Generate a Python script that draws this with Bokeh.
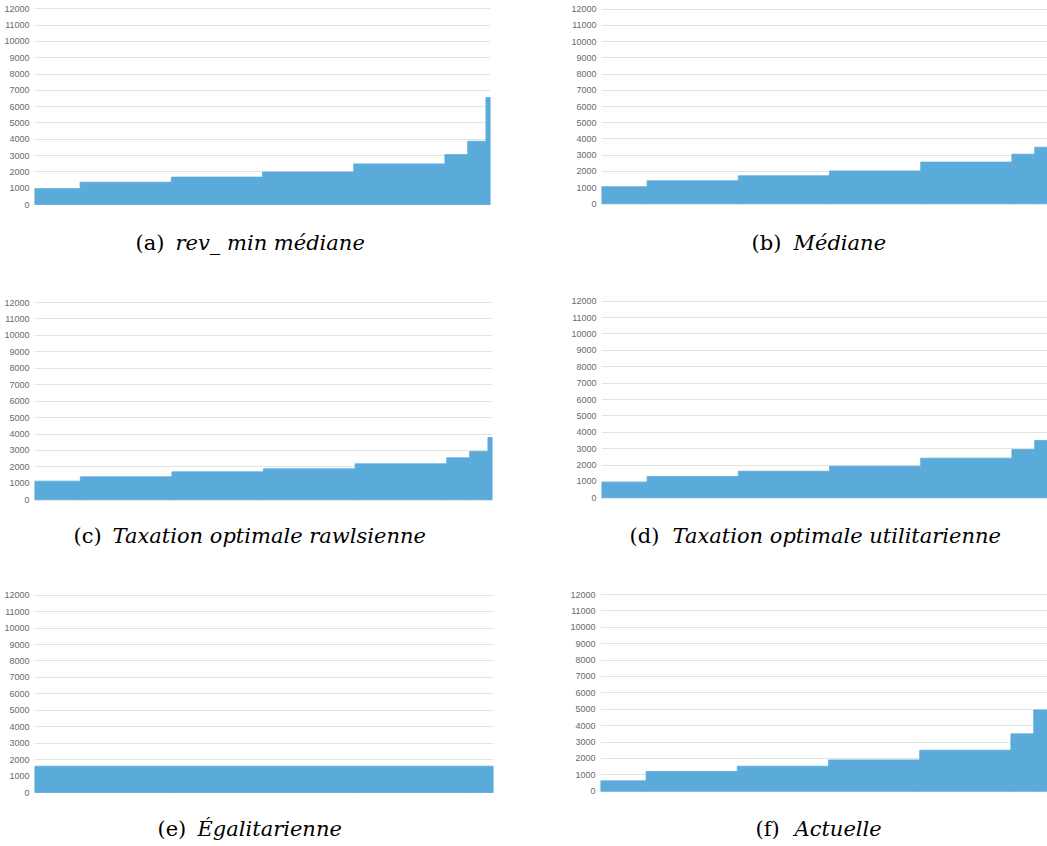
from bokeh.plotting import figure
from bokeh.layouts import column, row
from bokeh.models import Range1d, FixedTicker, NumeralTickFormatter
from bokeh.core.properties import value
from bokeh.embed import file_html
from bokeh.resources import INLINE

# Population brackets (percentile edges, in %)
bracket_edges = [0, 10, 30, 50, 70, 90, 95, 99, 100]

# Y-axis ticks (monthly income)
y_ticks = [0, 1000, 2000, 3000, 4000, 5000, 6000, 7000, 8000, 9000, 10000, 11000, 12000]

# Income level of each bracket, per scenario
rev_min_mediane = [970, 1370, 1680, 1990, 2490, 3060, 3880, 6560]
mediane = [1050, 1420, 1730, 2030, 2570, 3060, 3490]
rawlsienne = [1135, 1400, 1700, 1885, 2190, 2555, 2940, 3790]
utilitarienne = [955, 1300, 1625, 1930, 2420, 2950, 3500]
egalitarienne = [1600, 1600, 1600, 1600, 1600, 1600, 1600, 1600]
actuelle = [630, 1200, 1525, 1910, 2500, 3500, 4960]

# Caption parts
tags = ["(a)", "(b)", "(c)", "(d)", "(e)", "(f)"]
titles = ["rev_ min médiane", "Médiane", "Taxation optimale rawlsienne",
          "Taxation optimale utilitarienne", "Égalitarienne", "Actuelle"]
series = [rev_min_mediane, mediane, rawlsienne, utilitarienne, egalitarienne, actuelle]

BAR = "#5aabd9"
GRID = "#e3e3e3"
TICK_TEXT = "#6a6a6a"

COL_X = [0, 567]
COL_W = [567, 480]
ROW_Y = [0, 293, 586]
ROW_H = [293, 293, 258]

# Page geometry of each panel: frame left, right edge of the full 0-100 span,
# pixel rows of the 12000 and 0 gridlines, caption tag x, title x, caption y
layout_px = [
    (34, 490, 8.3, 204.0, 135, 175, 242),
    (601, 1057, 8.7, 203.3, 751, 793, 242),
    (34, 492, 302.0, 499.3, 73, 112, 535),
    (601, 1057, 300.7, 497.3, 629, 672, 535),
    (34, 493, 594.7, 792.0, 157, 197, 828),
    (600, 1056, 594.0, 790.7, 755, 794, 828),
]


def make_panel(i):
    vals = series[i]
    col, r = i % 2, i // 2
    f_left, f_right_full, y_top, y_zero, tag_x, title_x, base_y = layout_px[i]
    fx0, fw = COL_X[col], COL_W[col]
    fy0, fh = ROW_Y[r], ROW_H[r]
    full_w = f_right_full - f_left
    f_right = min(f_right_full, fx0 + fw)
    x_end = (f_right - f_left) / full_w * 100
    bt, bb = 2, 0
    frame_top, frame_bot = fy0 + bt, fy0 + fh - bb
    s = (y_zero - y_top) / 12000.0
    y_end = 12000 + (y_top - frame_top) / s
    y_start = -(frame_bot - y_zero) / s

    p = figure(width=fw, height=fh,
               x_range=Range1d(0, x_end), y_range=Range1d(y_start, y_end),
               output_backend="svg", toolbar_location=None,
               x_axis_location=None,
               min_border_left=int(f_left - fx0),
               min_border_right=int(fx0 + fw - f_right),
               min_border_top=bt, min_border_bottom=bb)
    p.outline_line_color = None
    p.background_fill_color = "white"
    p.border_fill_color = "white"

    p.xgrid.visible = False
    p.ygrid.ticker = FixedTicker(ticks=y_ticks)
    p.ygrid.grid_line_color = GRID
    p.ygrid.grid_line_width = 1.2

    ax = p.yaxis[0]
    ax.ticker = FixedTicker(ticks=y_ticks)
    ax.formatter = NumeralTickFormatter(format="0")
    ax.axis_line_color = None
    ax.major_tick_line_color = None
    ax.minor_tick_line_color = None
    ax.major_tick_out = 0
    ax.major_label_standoff = 5
    ax.major_label_text_font = "Liberation Sans"
    ax.major_label_text_font_size = "9px"
    ax.major_label_text_color = TICK_TEXT

    # bracket bars; an outline in the fill colour hides seams between them
    n = len(vals)
    p.quad(left=bracket_edges[:n], right=bracket_edges[1:n + 1],
           bottom=[0] * n, top=vals, fill_color=BAR,
           line_color=BAR, line_width=0.8)

    cy = -(base_y - y_zero) / s
    p.text(x=[(tag_x - f_left) / full_w * 100], y=[cy], text=[tags[i]],
           text_font=value("DejaVu Serif"), text_font_size="21px",
           text_baseline="alphabetic", text_align="left", text_color="black")
    p.text(x=[(title_x - f_left) / full_w * 100], y=[cy], text=[titles[i]],
           text_font=value("DejaVu Serif"), text_font_style="italic",
           text_font_size="21px", text_baseline="alphabetic",
           text_align="left", text_color="black")
    return p


panels = [make_panel(i) for i in range(6)]
page = column(row(panels[0], panels[1]),
              row(panels[2], panels[3]),
              row(panels[4], panels[5]))

open("out.html", "w").write(file_html(page, INLINE))
